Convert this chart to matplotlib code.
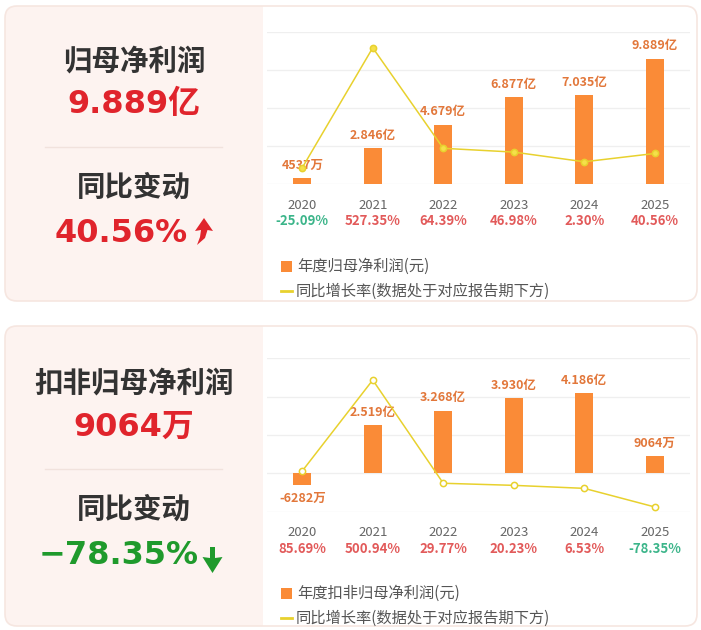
import numpy as np
import matplotlib.pyplot as plt
from matplotlib.patches import FancyBboxPatch, Rectangle, Polygon

plt.rcParams['font.family'] = ['Noto Sans CJK SC', 'DejaVu Sans']

years = ['2020', '2021', '2022', '2023', '2024', '2025']

# 归母净利润 (亿元) and yoy growth (%)
profit = [0.4537, 2.846, 4.679, 6.877, 7.035, 9.889]
profit_labels = ['4537万', '2.846亿', '4.679亿', '6.877亿', '7.035亿', '9.889亿']
profit_yoy = [-25.09, 527.35, 64.39, 46.98, 2.30, 40.56]

# 扣非归母净利润 (亿元) and yoy growth (%)
deducted = [-0.6282, 2.519, 3.268, 3.930, 4.186, 0.9064]
deducted_labels = ['-6282万', '2.519亿', '3.268亿', '3.930亿', '4.186亿', '9064万']
deducted_yoy = [85.69, 500.94, 29.77, 20.23, 6.53, -78.35]

W, H = 701, 630
BAR = '#fa8b37'
LBL = '#e2773a'
LINE = '#e8d12e'
UP = '#e0242c'
DOWN = '#1f9a2c'
PCT_UP = '#e25a5a'
PCT_DN = '#3cb58a'

fig = plt.figure(figsize=(W / 100, H / 100), dpi=100)
bg = fig.add_axes([0, 0, 1, 1])
bg.set_xlim(0, W)
bg.set_ylim(H, 0)
bg.axis('off')


def panel(y0, y1):
    box = FancyBboxPatch((5, y0), 692, y1 - y0, boxstyle='round,pad=0,rounding_size=12',
                         fc='white', ec='none', zorder=0)
    bg.add_patch(box)
    pink = Rectangle((5, y0), 258, y1 - y0, fc='#fdf3f0', ec='none', zorder=0.5)
    bg.add_patch(pink)
    pink.set_clip_path(box)
    bg.add_patch(FancyBboxPatch((5, y0), 692, y1 - y0, boxstyle='round,pad=0,rounding_size=12',
                                fc='none', ec='#f6e6e0', lw=1.2, zorder=1))


def side(title, value, change, ytop, chg_color, arrow, chg_x):
    bg.text(134, ytop + 56, title, ha='center', va='center', fontsize=20.5, color='#333333',
            fontweight='bold')
    bg.text(134, ytop + 99, value, ha='center', va='center', fontsize=23, color=UP,
            fontweight='bold', family=['DejaVu Sans', 'Noto Sans CJK SC'])
    bg.plot([45, 222], [ytop + 141, ytop + 141], color='#f1e2dd', lw=1, zorder=2)
    bg.text(134, ytop + 182, '同比变动', ha='center', va='center', fontsize=20.5, color='#333333',
            fontweight='bold')
    bg.text(chg_x, ytop + 227, change, ha='center', va='center', fontsize=23, color=chg_color,
            fontweight='bold', family=['DejaVu Sans', 'Noto Sans CJK SC'])
    pts = [(x, y + ytop) for x, y in arrow]
    bg.add_patch(Polygon(pts, closed=True, fc=chg_color, ec='none', zorder=3))


def chart(top, bottom, vals, labels, yoy, ymin, ymax, step, mfc, legend_name, leg_y):
    ax = fig.add_axes([267 / W, 1 - bottom / H, 423 / W, (bottom - top) / H])
    ax.set_facecolor('none')
    x = np.arange(len(years))
    ax.bar(x, vals, width=0.255, color=BAR, zorder=2)
    ax.set_xlim(-0.5, 5.5)
    ax.set_ylim(ymin, ymax)
    ax.set_yticks(np.arange(ymin, ymax + step / 2, step))
    ax.grid(axis='y', color='#efefef', lw=0.9, zorder=0)
    for i, (v, t) in enumerate(zip(vals, labels)):
        ax.annotate(t, (i, v), xytext=(0, 4.5 if v >= 0 else -4.5), textcoords='offset points',
                    ha='center', va='bottom' if v >= 0 else 'top', fontsize=9,
                    fontweight='bold', color=LBL, zorder=4)
    ax2 = ax.twinx()
    ax2.plot(x, yoy, color=LINE, lw=1.1, marker='o', ms=4.5, mfc=mfc, mec=LINE, mew=1.1, zorder=3)
    ax2.set_ylim(-100, 600)
    ax2.axis('off')
    for s in ax.spines.values():
        s.set_visible(False)
    ax.tick_params(left=False, right=False, bottom=False, labelleft=False, labelbottom=False)
    h = bottom - top
    tr = ax.get_xaxis_transform()
    for i, (yr, g) in enumerate(zip(years, yoy)):
        ax.text(i, -21 / h, yr, transform=tr, ha='center', va='center', fontsize=9.5,
                color='#666666')
        ax.text(i, -37 / h, f'{g:.2f}%', transform=tr, ha='center', va='center', fontsize=9.5,
                fontweight='bold', color=PCT_UP if g >= 0 else PCT_DN)
    # legend
    bg.add_patch(Rectangle((281, leg_y - 5.5), 11, 11, fc=BAR, ec='none', zorder=3))
    bg.text(297, leg_y, legend_name, ha='left', va='center', fontsize=11, color='#555555')
    bg.plot([281, 292], [leg_y + 25, leg_y + 25], color=LINE, lw=2, zorder=3)
    bg.text(296, leg_y + 25, '同比增长率(数据处于对应报告期下方)', ha='left', va='center',
            fontsize=11, color='#555555')


panel(6, 301)
panel(326, 626)

up_arrow = [(204, 218), (213, 231), (207.5, 230), (205, 238), (197, 245), (200, 237), (201, 230), (195, 231)]
down_arrow = [(210, 547), (215, 547), (215, 558), (222.5, 557), (212.5, 573), (202.5, 557), (210, 558)]
side('归母净利润', '9.889亿', '40.56%', 6, UP, [(x, y - 6) for x, y in up_arrow], 121)
side('扣非归母净利润', '9064万', '−78.35%', 328, DOWN, [(x, y - 328) for x, y in down_arrow], 119)

chart(32, 184, profit, profit_labels, profit_yoy, 0, 12, 3, '#f5e04a', '年度归母净利润(元)', 266)
chart(358.3, 511.7, deducted, deducted_labels, deducted_yoy, -2, 6, 2, 'white', '年度扣非归母净利润(元)', 593)

fig.savefig('out.png', dpi=100)
